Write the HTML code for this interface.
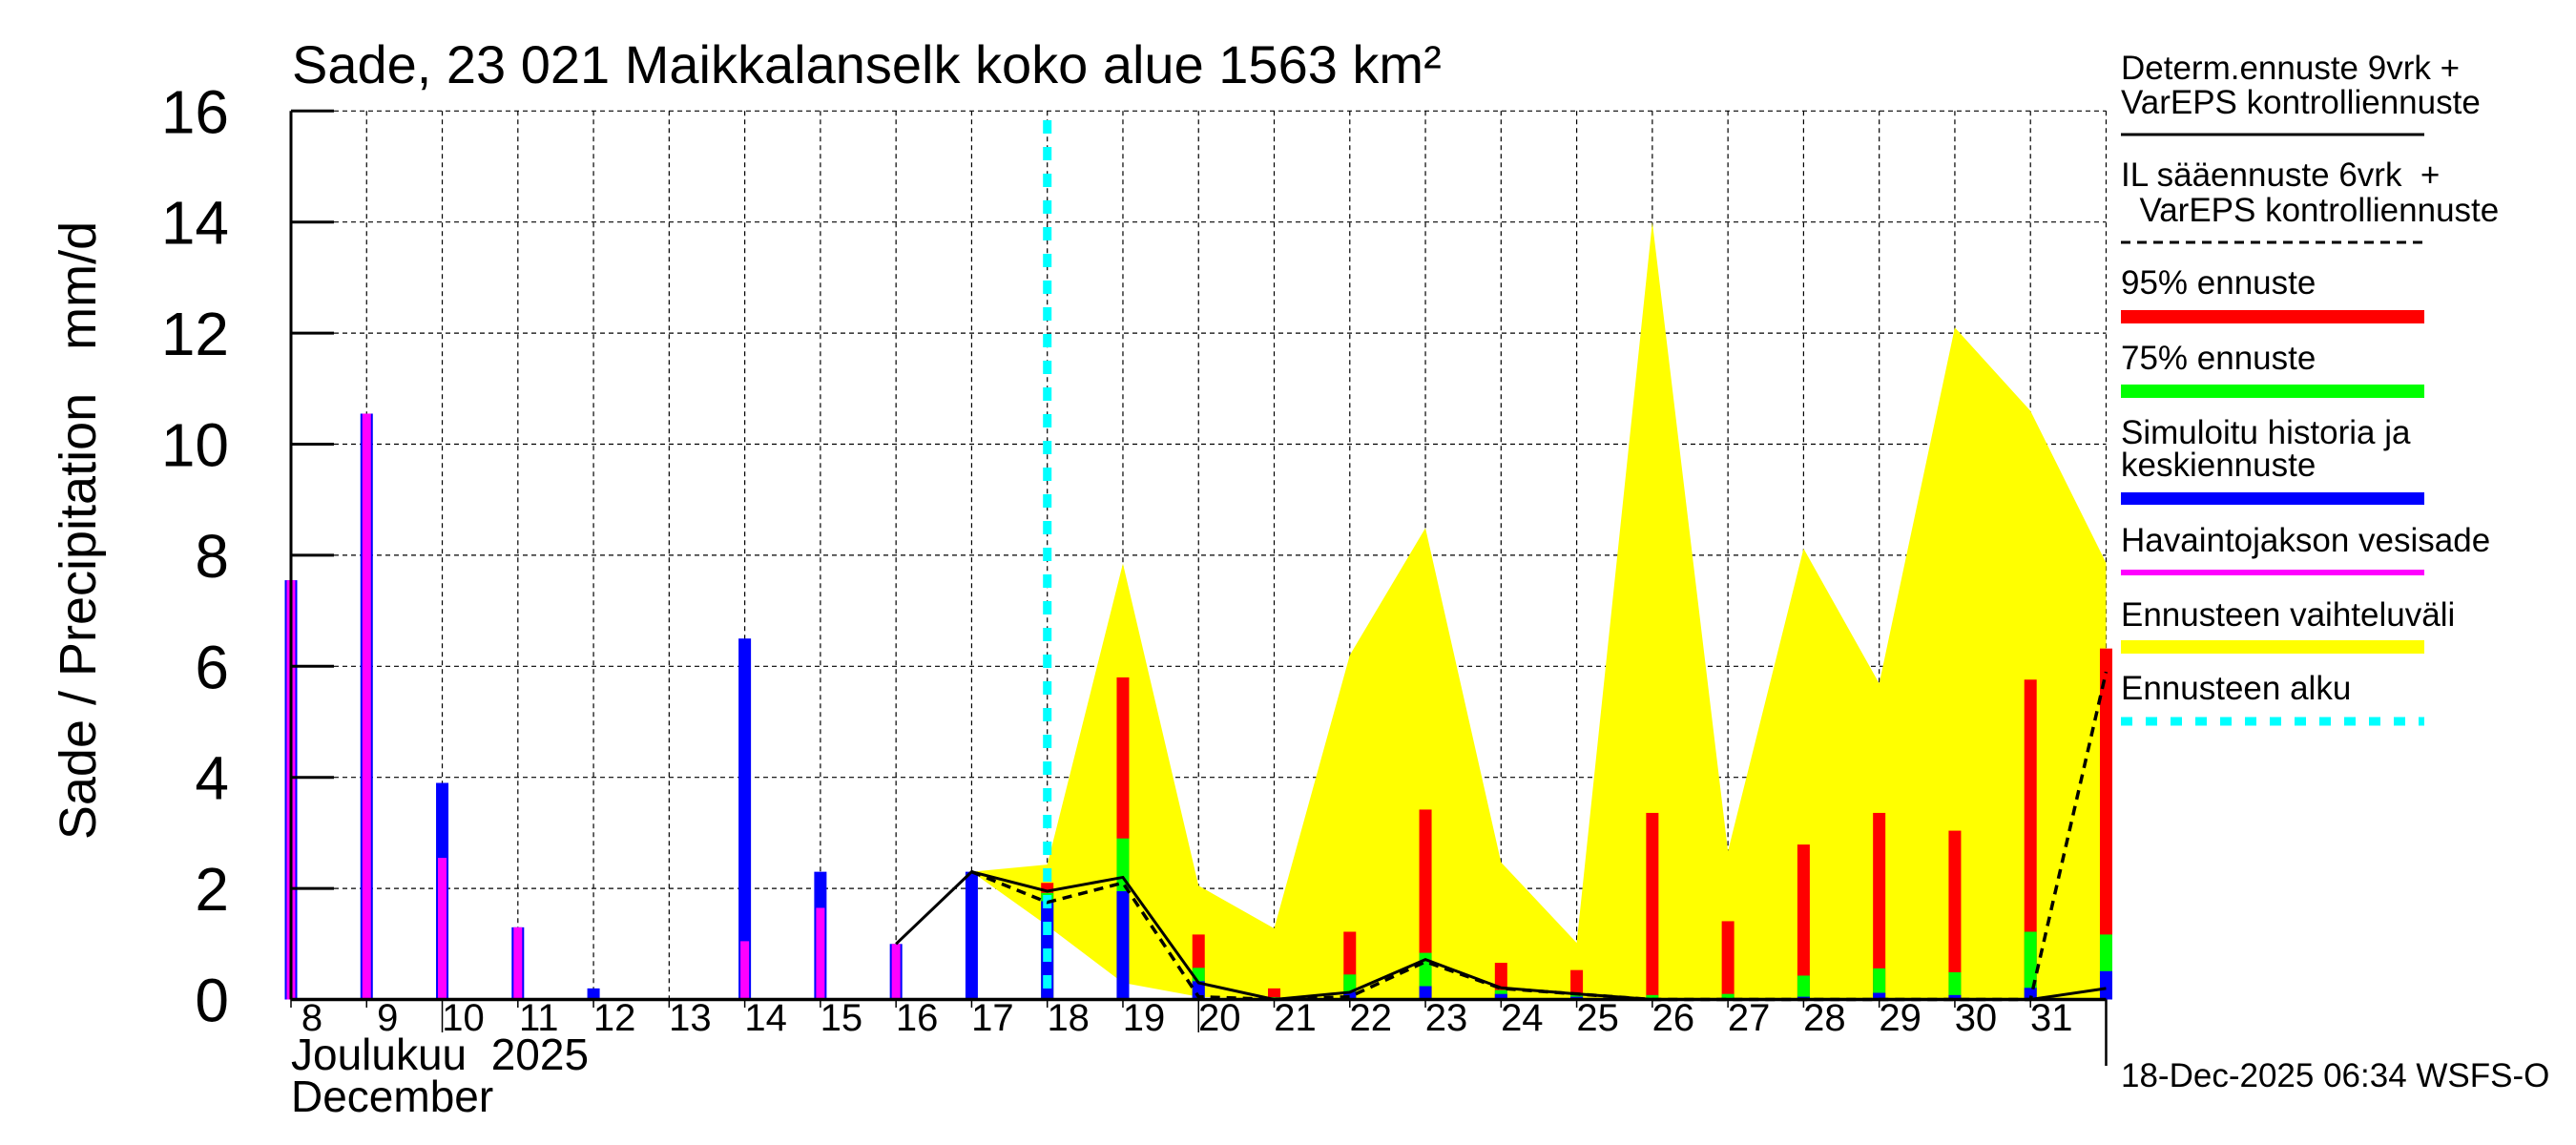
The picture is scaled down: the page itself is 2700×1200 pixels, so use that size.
<!DOCTYPE html>
<html><head><meta charset="utf-8"><style>
html,body{margin:0;padding:0;background:#fff}
svg{display:block}
text{font-family:"Liberation Sans",sans-serif;fill:#000;white-space:pre}
</style></head><body>
<svg id="c" width="2700" height="1200" viewBox="0 0 2700 1200" xmlns="http://www.w3.org/2000/svg">
<g id="grid"></g>
<g id="band"></g>
<g id="bars"></g>
<g id="lines"></g>
<g id="axes"></g>
<text x="306" y="87" font-size="56">Sade, 23 021 Maikkalanselk koko alue 1563 km²</text>
<text transform="translate(100,556) rotate(-90)" text-anchor="middle" font-size="54" xml:space="preserve">Sade / Precipitation   mm/d</text>
<text x="305" y="1121" font-size="46" xml:space="preserve">Joulukuu  2025</text>
<text x="305" y="1165" font-size="46">December</text>
<text x="2223" y="1139" font-size="35">18-Dec-2025 06:34 WSFS-O</text>
<g font-size="35">
<text x="2223" y="83">Determ.ennuste 9vrk +</text>
<text x="2223" y="119">VarEPS kontrolliennuste</text>
<line x1="2223" y1="141" x2="2541" y2="141" stroke="#000" stroke-width="3"/>
<text x="2223" y="195" xml:space="preserve">IL sääennuste 6vrk  +</text>
<text x="2223" y="232" xml:space="preserve">  VarEPS kontrolliennuste</text>
<line x1="2223" y1="254" x2="2541" y2="254" stroke="#000" stroke-width="3" stroke-dasharray="10,7"/>
<text x="2223" y="308">95% ennuste</text>
<rect x="2223" y="325" width="318" height="14" fill="#ff0000"/>
<text x="2223" y="387">75% ennuste</text>
<rect x="2223" y="403" width="318" height="14" fill="#00ff00"/>
<text x="2223" y="465">Simuloitu historia ja</text>
<text x="2223" y="499">keskiennuste</text>
<rect x="2223" y="516" width="318" height="13" fill="#0000ff"/>
<text x="2223" y="578">Havaintojakson vesisade</text>
<rect x="2223" y="597" width="318" height="6" fill="#ff00ff"/>
<text x="2223" y="656">Ennusteen vaihteluväli</text>
<rect x="2223" y="671" width="318" height="14" fill="#ffff00"/>
<text x="2223" y="733">Ennusteen alku</text>
<line x1="2223" y1="756" x2="2541" y2="756" stroke="#00ffff" stroke-width="9" stroke-dasharray="12,14"/>
</g>
</svg>
<script>
const dayLabels=["8","9","10","11","12","13","14","15","16","17","18","19","20","21","22","23","24","25","26","27","28","29","30","31",""];
const yTicks=[0,2,4,6,8,10,12,14,16];
const simValues=[7.55,10.55,3.9,1.3,0.2,0.02,6.5,2.3,1.0,2.3,1.77,1.95,0.33,0.02,0.14,0.24,0.1,0.05,0,0,0.05,0.12,0.08,0.21,0.51];
const obsValues=[7.55,10.55,2.55,1.3,0,0,1.05,1.65,1.0,0,0,0,0,0,0,0,0,0,0,0,0,0,0,0,0];
const p75Values=[0,0,0,0,0,0,0,0,0,0,1.92,2.9,0.57,0.04,0.45,0.84,0.17,0.1,0.08,0.1,0.43,0.56,0.49,1.22,1.17];
const p95Values=[0,0,0,0,0,0,0,0,0,0,2.1,5.8,1.17,0.2,1.22,3.42,0.66,0.53,3.36,1.41,2.79,3.36,3.04,5.76,6.32];
const bandStart=9;
const bandUpper=[2.3,2.43,7.85,2.05,1.28,6.2,8.49,2.47,1.02,14.0,2.67,8.12,5.69,12.1,10.6,7.86];
const bandLower=[2.3,1.33,0.3,0.05,0,0,0,0,0,0,0,0,0,0,0,0];
const determStart=8;
const determValues=[1.0,2.3,1.95,2.2,0.3,0,0.13,0.72,0.21,0.1,0,0,0,0,0,0,0.2];
const ilStart=9;
const ilValues=[2.3,1.75,2.1,0.05,0,0.05,0.68,0.2,0.1,0,0,0,0,0,0,5.9];
const forecastStartIndex=10;

const NS="http://www.w3.org/2000/svg";
const X0=305,DX=79.27,Y0=1047.5,YS=58.2;
const xs=i=>X0+i*DX, ys=v=>Y0-v*YS;
function mk(tag,attrs,parent){const e=document.createElementNS(NS,tag);for(const k in attrs)e.setAttribute(k,attrs[k]);document.getElementById(parent).appendChild(e);return e;}
const R=xs(24);
yTicks.forEach((t,i)=>{
  if(t>0){const g=mk('line',{x1:X0,x2:R,y1:ys(t),y2:ys(t),stroke:'#000','stroke-width':1.2,'stroke-dasharray':'5,4'},'grid');
  
  }
  const tk=mk('line',{x1:X0,x2:X0+45,y1:ys(t),y2:ys(t),stroke:'#000','stroke-width':3},'axes');
  
  
  const tx=mk('text',{x:240,y:ys(t)+23,'text-anchor':'end','font-size':64},'axes');
  tx.textContent=t;
  
  
});
dayLabels.forEach((d,i)=>{
  if(i>0){const g=mk('line',{x1:xs(i),x2:xs(i),y1:ys(16),y2:Y0,stroke:'#000','stroke-width':1.2,'stroke-dasharray':'5,4'},'grid');
  
  }
  const long=(d==="10"||d==="20");
  const tk=mk('line',{x1:xs(i),x2:xs(i),y1:Y0,y2:long?1082:1056,stroke:'#000','stroke-width':1.5},'axes');
  
  
  if(d){const tx=mk('text',{x:xs(i)+22,y:1080,'text-anchor':'middle','font-size':40},'axes');
  tx.textContent=d;
  
  }
});
let pts=[];
bandUpper.forEach((v,i)=>pts.push(xs(bandStart+i)+','+ys(v)));
for(let i=bandLower.length-1;i>=0;i--)pts.push(xs(bandStart+i)+','+ys(bandLower[i]));
const bp=mk('polygon',{points:pts.join(' '),fill:'#ffff00'},'band');


const W=13;
simValues.forEach((v,i)=>{
  const x=xs(i)-W/2;
  if(p95Values[i]>0){const r=mk('rect',{x:x,y:ys(p95Values[i]),width:W,height:p95Values[i]*YS,fill:'#ff0000'},'bars');
  
  }
  if(p75Values[i]>0){const r=mk('rect',{x:x,y:ys(p75Values[i]),width:W,height:p75Values[i]*YS,fill:'#00ff00'},'bars');
  
  }
  if(v>0){const r=mk('rect',{x:x,y:ys(v),width:W,height:v*YS,fill:'#0000ff'},'bars');
  
  }
  if(obsValues[i]>0){const r=mk('rect',{x:xs(i)-4.5,y:ys(obsValues[i]),width:9,height:obsValues[i]*YS,fill:'#ff00ff'},'bars');
  
  }
});
const fs=mk('line',{x1:xs(forecastStartIndex),x2:xs(forecastStartIndex),y1:126,y2:Y0,stroke:'#00ffff','stroke-width':9,'stroke-dasharray':'14,14'},'lines');


const dl=mk('polyline',{points:determValues.map((v,i)=>xs(determStart+i)+','+ys(v)).join(' '),fill:'none',stroke:'#000','stroke-width':3},'lines');


const il=mk('polyline',{points:ilValues.map((v,i)=>xs(ilStart+i)+','+ys(v)).join(' '),fill:'none',stroke:'#000','stroke-width':3.5,'stroke-dasharray':'10,7'},'lines');


const ya=mk('line',{x1:X0,x2:X0,y1:ys(16),y2:Y0,stroke:'#000','stroke-width':3},'axes');


const xa=mk('line',{x1:X0,x2:R,y1:Y0,y2:Y0,stroke:'#000','stroke-width':3.5},'axes');


const ra=mk('line',{x1:R,x2:R,y1:Y0,y2:1117,stroke:'#000','stroke-width':2.5},'axes');


</script>
</body></html>
